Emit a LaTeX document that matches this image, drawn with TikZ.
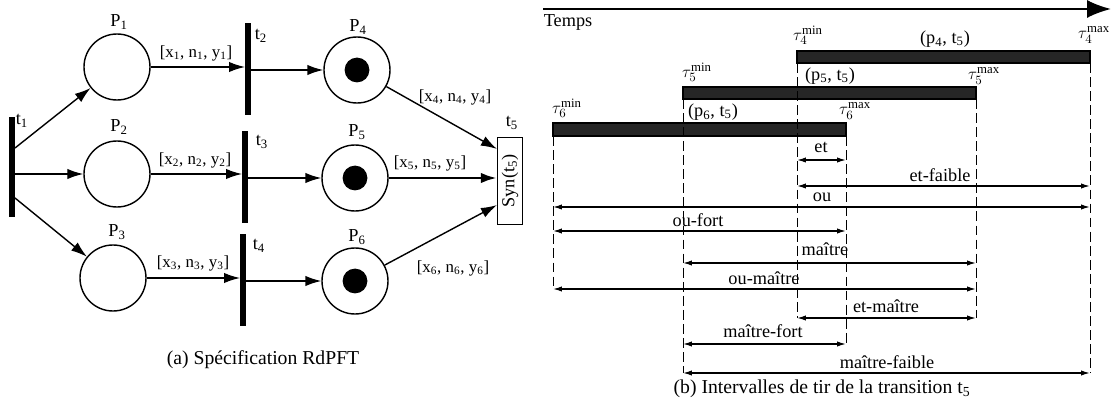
\documentclass[tikz,border=0pt]{standalone}
\usepackage{fontspec}
\setmainfont{Liberation Serif}
\usepackage{graphicx}
\usetikzlibrary{arrows.meta}
\begin{document}
\begin{tikzpicture}[x=0.25mm,y=-0.25mm,
  font=\fontsize{13}{15}\selectfont,inner sep=1pt,
  place/.style={draw,circle,line width=1pt,minimum size=1.65cm,inner sep=0pt},
  token/.style={fill,circle,minimum size=0.62cm,inner sep=0pt},
  trans/.style={fill,rectangle,minimum width=0.15cm,minimum height=2.3cm,inner sep=0pt,outer sep=0pt},
  arc/.style={line width=1pt,-{Latex[length=4mm,width=2.6mm]}},
  arclabel/.style={font=\fontsize{12}{14}\selectfont},
  interval/.style={line width=0.9pt,{Latex[length=2.2mm,width=1.3mm]}-{Latex[length=2.2mm,width=1.3mm]}},
  limit/.style={line width=0.7pt,dash pattern=on 7pt off 3pt},
  window/.style={draw,line width=0.8pt,fill=black!85},
  caption/.style={font=\fontsize{14}{16}\selectfont}]
\useasboundingbox (0,0) rectangle (1111,405);
\node[trans,minimum height=2.5cm] (t1) at (12,167) {};
\node[place] (P1) at (117,67) {};
\node[place] (P2) at (117,174) {};
\node[place] (P3) at (113,278) {};
\node[trans] (t2) at (248,69) {};
\node[trans] (t3) at (245,177) {};
\node[trans] (t4) at (243,280) {};
\node[place] (P4) at (357,70) {};
\node[place] (P5) at (355,178) {};
\node[place] (P6) at (355,281) {};
\node[token] (k4) at (P4) {};
\node[token] (k5) at (P5) {};
\node[token] (k6) at (P6) {};
\node[draw,line width=0.8pt,minimum width=0.625cm,minimum height=2.175cm,inner sep=0pt] (t5) at (510,181) {\rotatebox{90}{Syn(t\textsubscript{5})}};
\node (lt1) at (22,121) {t\textsubscript{1}};
\node (lt2) at (261,36) {t\textsubscript{2}};
\node (lt3) at (262,142) {t\textsubscript{3}};
\node (lt4) at (259,246) {t\textsubscript{4}};
\node (lt5) at (512,123) {t\textsubscript{5}};
\node (lP1) at (119,22) {P\textsubscript{1}};
\node (lP2) at (119,127) {P\textsubscript{2}};
\node (lP3) at (117,232) {P\textsubscript{3}};
\node (lP4) at (358,27) {P\textsubscript{4}};
\node (lP5) at (357,132) {P\textsubscript{5}};
\node (lP6) at (357,237) {P\textsubscript{6}};
\node[arclabel] (a1) at (196,53) {[x\textsubscript{1}, n\textsubscript{1}, y\textsubscript{1}]};
\node[arclabel] (a2) at (195,160) {[x\textsubscript{2}, n\textsubscript{2}, y\textsubscript{2}]};
\node[arclabel] (a3) at (193,263) {[x\textsubscript{3}, n\textsubscript{3}, y\textsubscript{3}]};
\node[arclabel] (a4) at (455,97) {[x\textsubscript{4}, n\textsubscript{4}, y\textsubscript{4}]};
\node[arclabel] (a5) at (430,163) {[x\textsubscript{5}, n\textsubscript{5}, y\textsubscript{5}]};
\node[arclabel] (a6) at (453,268) {[x\textsubscript{6}, n\textsubscript{6}, y\textsubscript{6}]};
\draw[arc] ([yshift=0.475cm]t1.east) -- (P1);
\draw[arc] (t1.east |- P2) -- (P2);
\draw[arc] ([yshift=-0.775cm]t1.east) -- (P3);
\draw[arc] (P1) -- (P1 -| t2.west);
\draw[arc] (t2.east |- P4) -- (P4);
\draw[arc] (P2) -- (P2 -| t3.west);
\draw[arc] (t3.east |- P5) -- (P5);
\draw[arc] (P3) -- (P3 -| t4.west);
\draw[arc] (t4.east |- P6) -- (P6);
\draw[arc] (P4) -- ([yshift=-0.3cm]t5.north west);
\draw[arc,line width=2pt] (P5) -- (P5 -| t5.west);
\draw[arc] (P6) -- ([yshift=0.5cm]t5.south west);
\node[caption] (capa) at (263,360) {(a) Spécification RdPFT};
\draw[line width=1.4pt,-{Latex[length=6mm,width=4.5mm]}] (543,9) -- (1111,9);
\node (temps) at (568,22) {Temps};
\draw[window] (797,51) rectangle (1090,63);
\draw[window] (683,87) rectangle (976,99);
\draw[window] (553,123) rectangle (846,136);
\draw[limit] (553,136) -- (553,289);
\draw[limit] (683,99) -- (683,373);
\draw[limit] (797,63) -- (797,318);
\draw[limit] (846,136) -- (846,344);
\draw[limit] (976,99) -- (976,318);
\draw[limit] (1090,63) -- (1090,373);
\node (m4) at (808,35) {$\tau_4^{\mathrm{min}}$};
\node (m5) at (697,72) {$\tau_5^{\mathrm{min}}$};
\node (m6) at (567,108) {$\tau_6^{\mathrm{min}}$};
\node (M4) at (1094,35) {$\tau_4^{\mathrm{max}}$};
\node (M5) at (984,76) {$\tau_5^{\mathrm{max}}$};
\node (M6) at (855,111) {$\tau_6^{\mathrm{max}}$};
\node (w4) at (945,39) {(p\textsubscript{4}, t\textsubscript{5})};
\node (w5) at (830,76) {(p\textsubscript{5}, t\textsubscript{5})};
\node (w6) at (713,112) {(p\textsubscript{6}, t\textsubscript{5})};
\draw[interval] (797,160) -- (846,160);
\node (et) at (821,147) {et};
\draw[interval] (797,186) -- (1090,186);
\node (etf) at (940,175) {et-faible};
\draw[interval] (553,207) -- (1090,207);
\node (ou) at (822,197) {ou};
\draw[interval] (553,231) -- (846,231);
\node (ouf) at (698,220) {ou-fort};
\draw[interval] (683,263) -- (976,263);
\node (mai) at (825,249) {maître};
\draw[interval] (553,289) -- (976,289);
\node (oum) at (764,278) {ou-maître};
\draw[interval] (797,318) -- (976,318);
\node (etm) at (886,306) {et-maître};
\draw[interval] (683,344) -- (846,344);
\node (maf) at (763,331) {maître-fort};
\draw[interval] (683,373) -- (1090,373);
\node (mafa) at (887,362) {maître-faible};
\node[caption] (capb) at (822,389) {(b) Intervalles de tir de la transition t\textsubscript{5}};
\end{tikzpicture}
\end{document}
